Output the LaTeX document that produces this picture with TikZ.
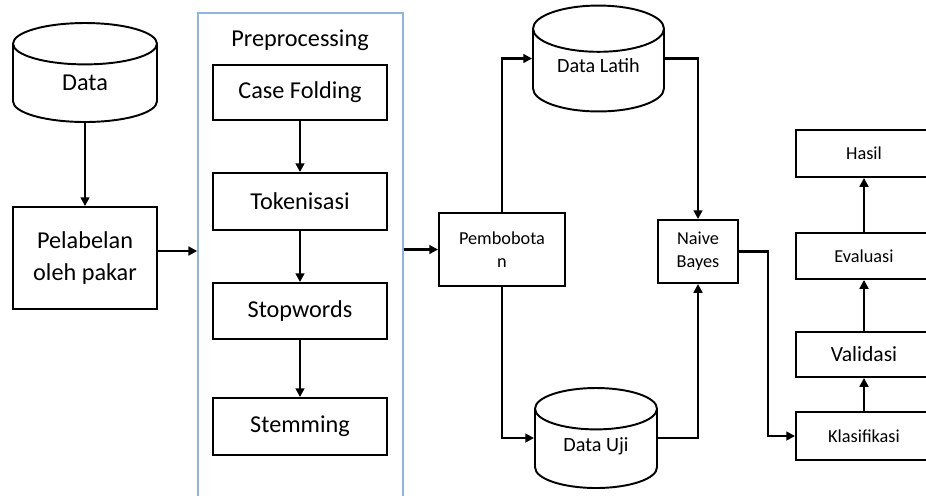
\documentclass[tikz,border=0pt]{standalone}
\usepackage{fontspec}
\setmainfont{Carlito}
\usepackage{xcolor}
\usepackage{tikz}
\usetikzlibrary{shapes.geometric,arrows.meta,positioning,calc}

\definecolor{prepblue}{RGB}{141,180,226}

\begin{document}
\begin{tikzpicture}[
    x=0.02cm, y=-0.02cm,
    box/.style={rectangle, draw, line width=1.1pt, align=center, inner sep=2pt},
    db/.style={cylinder, shape border rotate=90, draw, line width=1.1pt, anchor=shape center,
        text width=2.2cm, align=flush center, text height=1.6ex},
    arrow/.style={-{Triangle[length=5pt,width=5pt]}, line width=1.4pt},
    big/.style={font=\fontsize{13.8}{18}\selectfont},
    mid/.style={font=\fontsize{11.5}{14}\selectfont},
    small/.style={font=\fontsize{10.4}{13}\selectfont}
]
    \useasboundingbox (0,0) rectangle (926,495);

    % Input
    \node[db, big, aspect=0.34, text depth=0.14cm, minimum width=2.88cm, minimum height=1.98cm] (data) at (85,72.5) {Data};
    \node[box, big, minimum width=2.88cm, minimum height=2.04cm] (pel) at (85,258) {Pelabelan\\oleh pakar};

    % Preprocessing
    \node[draw=prepblue, line width=0.9pt, minimum width=4.1cm, minimum height=9.74cm] (prep) at (300.5,256.5) {};
    \node[big] (preptitle) at (300,40) {Preprocessing};
    \node[box, big, minimum width=3.48cm, minimum height=1.1cm] (case) at (300,92.5) {Case Folding};
    \node[box, big, minimum width=3.48cm, minimum height=1.14cm] (token) at (300,201.5) {Tokenisasi};
    \node[box, big, minimum width=3.48cm, minimum height=1.12cm] (stop) at (300,311) {Stopwords};
    \node[box, big, minimum width=3.48cm, minimum height=1.14cm] (stem) at (300,426.5) {Stemming};

    % Weighting and split
    \node[box, small, minimum width=2.52cm, minimum height=1.46cm] (pemb) at (502,249.5) {Pembobota\\n};
    \node[db, mid, aspect=0.38, text depth=0.4cm, minimum width=2.62cm, minimum height=2.06cm] (latih) at (598.5,58.5) {Data Latih};
    \node[db, mid, aspect=0.34, text depth=0.32cm, minimum width=2.44cm, minimum height=2.0cm] (uji) at (596,438) {Data Uji};

    % Classifier
    \node[box, small, minimum width=1.6cm, minimum height=1.26cm] (nb) at (698,251.5) {Naive\\Bayes};

    % Results
    \node[box, small, minimum width=2.72cm, minimum height=0.96cm] (klas) at (864,436) {Klasifikasi};
    \node[box, font=\fontsize{12.3}{15}\selectfont, minimum width=2.72cm, minimum height=0.9cm] (valid) at (864,354.5) {Validasi};
    \node[box, small, minimum width=2.72cm, minimum height=0.92cm] (eval) at (864,256) {Evaluasi};
    \node[box, small, minimum width=2.72cm, minimum height=0.94cm] (hasil) at (864,153.5) {Hasil};

    % Arrows
    \draw[arrow] (data.south) -- (pel.north);
    \coordinate (pelout) at ($(pel.east)+(0,-7)$);
    \draw[arrow] (pelout) -- (pelout -| prep.west);

    \draw[arrow] (case) -- (token);
    \draw[arrow] (token) -- (stop);
    \draw[arrow] (stop) -- (stem);

    \draw[arrow] (prep.east |- pemb.west) -- (pemb.west);
    \draw[arrow] (pemb.north) |- (latih.west |- latih.shape center);
    \draw[arrow] (pemb.south) |- (uji.west |- uji.shape center);
    \draw[arrow] (latih.east |- latih.shape center) -| (nb.north);
    \draw[arrow] (uji.east |- uji.shape center) -| (nb.south);

    \draw[arrow] (nb.east) -- ++(29,0) |- (klas.west);
    \draw[arrow] (klas) -- (valid);
    \draw[arrow] (valid) -- (eval);
    \draw[arrow] (eval) -- (hasil);

\end{tikzpicture}
\end{document}
